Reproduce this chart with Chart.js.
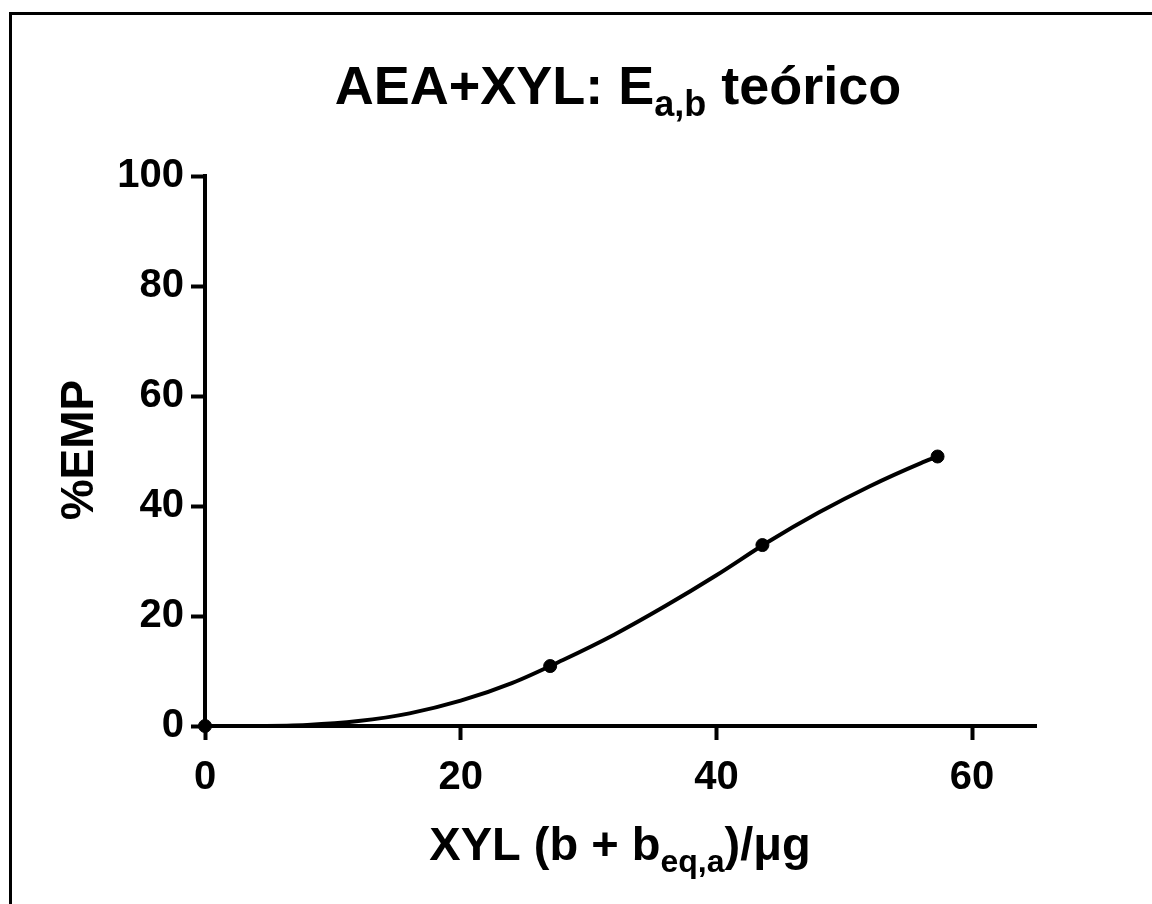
<!DOCTYPE html>
<html>
<head>
<meta charset="utf-8">
<title>AEA+XYL: Ea,b teórico</title>
<script src="https://cdn.jsdelivr.net/npm/chart.js@4"></script>
<style>
  html, body { margin: 0; padding: 0; background: #fff; }
  #wrap { position: relative; width: 1152px; height: 904px; overflow: hidden; }
  #frame {
    position: absolute; left: 9px; top: 12px; width: 1200px; height: 1000px;
    border-left: 3px solid #000; border-top: 3px solid #000; pointer-events: none;
  }
  canvas { position: absolute; left: 0; top: 0; }
</style>
</head>
<body>
<div id="wrap">
  <canvas id="chart" width="1152" height="904"></canvas>
  <div id="frame"></div>
</div>
<script>
// fitted curve
const curveX = [0, 4, 8, 12, 16, 20, 24, 28, 32, 36, 40, 44, 48, 52, 56, 57.3];
const curveY = [0, 0.02, 0.2, 0.9, 2.3, 4.6, 7.8, 12.0, 16.6, 21.8, 27.4, 33.4, 38.8, 43.6, 47.8, 49.0];

// measured points
const pointsX = [0, 27.0, 43.6, 57.3];
const pointsY = [0, 10.9, 32.9, 49.0];

const xTicks = [0, 20, 40, 60];
const yTicks = [0, 20, 40, 60, 80, 100];

const FONT = "'Liberation Sans', Arial, sans-serif";

// text with subscripts: list of [text, isSub]
function drawRuns(ctx, runs, size, subSize, subDrop, cx, baseline) {
    let total = 0;
    runs.forEach(r => {
        ctx.font = `bold ${r[1] ? subSize : size}px ${FONT}`;
        total += ctx.measureText(r[0]).width;
    });
    let x = cx - total / 2;
    runs.forEach(r => {
        ctx.font = `bold ${r[1] ? subSize : size}px ${FONT}`;
        ctx.fillText(r[0], x, baseline + (r[1] ? subDrop : 0));
        x += ctx.measureText(r[0]).width;
    });
}

const labelsPlugin = {
    id: 'labels',
    afterDraw(chart) {
        const ctx = chart.ctx;
        ctx.save();
        ctx.fillStyle = '#000';
        ctx.textAlign = 'left';
        ctx.textBaseline = 'alphabetic';

        // title
        drawRuns(ctx, [['AEA+XYL: E', false], ['a,b', true], [' teórico', false]], 54, 36, 12, 618, 104);

        // x axis title
        drawRuns(ctx, [['XYL (b + b', false], ['eq,a', true], [')/\u03bcg', false]], 47, 32, 12, 620, 860);

        // y axis title
        ctx.translate(93, 450);
        ctx.rotate(-Math.PI / 2);
        drawRuns(ctx, [['%EMP', false]], 46, 30, 0, 0, 0);
        ctx.restore();
    }
};

const axisStyle = {
    border: { color: '#000', width: 4 },
    grid: { drawOnChartArea: false, drawTicks: true, tickLength: 14, tickWidth: 4, tickColor: '#000' },
};

new Chart(document.getElementById('chart'), {
    type: 'scatter',
    data: {
        datasets: [{
            type: 'line',
            data: curveX.map((x, i) => ({ x: x, y: curveY[i] })),
            borderColor: '#000',
            borderWidth: 4,
            pointRadius: 0,
            cubicInterpolationMode: 'monotone',
            fill: false,
            clip: false
        }, {
            data: pointsX.map((x, i) => ({ x: x, y: pointsY[i] })),
            backgroundColor: '#000',
            borderColor: '#000',
            pointRadius: 6.5,
            clip: false
        }]
    },
    options: {
        responsive: false,
        animation: false,
        layout: { padding: { left: 0, top: 176, right: 116, bottom: 98 } },
        plugins: { legend: { display: false }, tooltip: { enabled: false } },
        scales: {
            x: {
                type: 'linear', min: 0, max: 65,
                ...axisStyle,
                afterFit: s => { s.height = 80; },
                afterBuildTicks: s => { s.ticks = xTicks.map(v => ({ value: v })); },
                ticks: { color: '#000', padding: 14, font: { family: FONT, weight: 'bold', size: 40 } }
            },
            y: {
                type: 'linear', min: 0, max: 100,
                ...axisStyle,
                afterFit: s => { s.width = 205; },
                afterBuildTicks: s => { s.ticks = yTicks.map(v => ({ value: v })); },
                ticks: { color: '#000', padding: 7, font: { family: FONT, weight: 'bold', size: 40 } }
            }
        }
    },
    plugins: [labelsPlugin]
});
</script>
</body>
</html>
